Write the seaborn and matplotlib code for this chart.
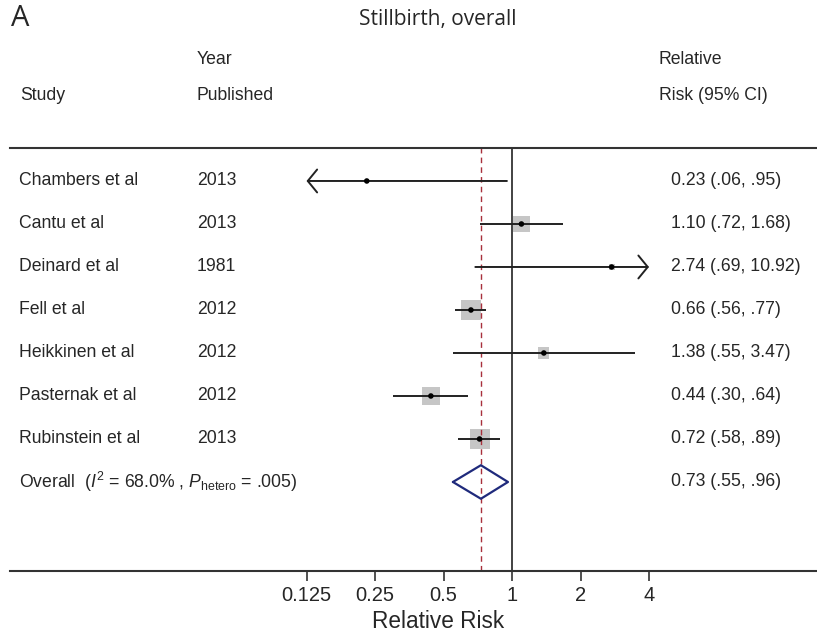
import matplotlib
matplotlib.use("agg")
import matplotlib.pyplot as plt
import matplotlib.transforms as mtransforms
from matplotlib.ticker import NullLocator, FixedLocator, FixedFormatter
import numpy as np
import pandas as pd
import seaborn as sns

# data
studies = ['Chambers et al', 'Cantu et al', 'Deinard et al', 'Fell et al',
           'Heikkinen et al', 'Pasternak et al', 'Rubinstein et al']
years = ['2013', '2013', '1981', '2012', '2012', '2012', '2013']
rr = [0.23, 1.10, 2.74, 0.66, 1.38, 0.44, 0.72]
ciLow = [0.06, 0.72, 0.69, 0.56, 0.55, 0.30, 0.58]
ciHigh = [0.95, 1.68, 10.92, 0.77, 3.47, 0.64, 0.89]
rrLabels = ['0.23 (.06, .95)', '1.10 (.72, 1.68)', '2.74 (.69, 10.92)',
            '0.66 (.56, .77)', '1.38 (.55, 3.47)', '0.44 (.30, .64)',
            '0.72 (.58, .89)']
weights = [0.8, 15.0, 1.9, 21.0, 6.4, 17.0, 21.0]   # approx. study weights (box area)

overallRR = 0.73
overallLow = 0.55
overallHigh = 0.96
overallText = '0.73 (.55, .96)'
overallLabel = r'Overall  ($I^2$ = 68.0% , $P_{\rm hetero}$ = .005)'

xTicks = [0.125, 0.25, 0.5, 1, 2, 4]
xTickLabels = ['0.125', '0.25', '0.5', '1', '2', '4']
clipLow, clipHigh = 0.125, 4.0

sns.set_style("white")
plt.rcParams['font.family'] = ['Liberation Sans', 'DejaVu Sans']
plt.rcParams['mathtext.fontset'] = 'custom'
plt.rcParams['mathtext.rm'] = 'Liberation Sans'
plt.rcParams['mathtext.it'] = 'Liberation Sans:italic'

W, H = 817, 638
fig = plt.figure(figsize=(W / 100, H / 100), dpi=100)
ax = fig.add_axes([10 / W, 67 / H, 807 / W, 423 / H])

pxPerDoubling = 68.5
x1px = 512
ax.set_xscale('log', base=2)
ax.set_xlim(2 ** ((10 - x1px) / pxPerDoubling), 2 ** ((817 - x1px) / pxPerDoubling))
ax.set_ylim(9.07, -0.767)

df = pd.DataFrame({'RR': rr, 'row': np.arange(len(studies)), 'weight': weights})

# grey weight boxes
k = 9.9
sns.scatterplot(data=df, x='RR', y='row', size='weight',
                sizes=(min(weights) * k, max(weights) * k), marker='s',
                color='#c6c6c6', edgecolor='none', linewidth=0,
                legend=False, ax=ax, zorder=1)

# confidence intervals (arrows where clipped)
arrowKw = dict(arrowstyle='->,head_length=0.45,head_width=0.55',
               lw=1.4, color='#222222', mutation_scale=15,
               shrinkA=0, shrinkB=0)
for i in range(len(studies)):
    lo, hi = ciLow[i], ciHigh[i]
    if lo < clipLow:
        ax.annotate('', xy=(clipLow, i), xytext=(hi, i), arrowprops=arrowKw, zorder=3)
    elif hi > clipHigh:
        ax.annotate('', xy=(clipHigh, i), xytext=(lo, i), arrowprops=arrowKw, zorder=3)
    else:
        ax.hlines(i, lo, hi, color='#222222', lw=1.4, zorder=3)

# point estimates
sns.scatterplot(data=df, x='RR', y='row', color='black', s=16,
                edgecolor='none', legend=False, ax=ax, zorder=4)

# overall diamond
oRow = len(studies)
h = 0.39
ax.plot([overallLow, overallRR, overallHigh, overallRR, overallLow],
        [oRow, oRow - h, oRow, oRow + h, oRow], color='#1f2a7c', lw=1.6, zorder=3)

ax.axvline(1, color='#222222', lw=1.2, zorder=2)
ax.axvline(overallRR, color='#a8303c', lw=1.0, ls=(0, (4, 3)), zorder=2)

for side in ['left', 'right']:
    ax.spines[side].set_visible(False)
for side in ['top', 'bottom']:
    ax.spines[side].set_color('#333333')
    ax.spines[side].set_linewidth(1.5)

ax.xaxis.set_major_locator(FixedLocator(xTicks))
ax.xaxis.set_major_formatter(FixedFormatter(xTickLabels))
ax.xaxis.set_minor_locator(NullLocator())
ax.tick_params(axis='x', bottom=True, direction='out', length=7, width=1.2,
               color='#333333', pad=4, labelsize=14.5)
ax.set_yticks([])
ax.set_ylabel('')
ax.set_xlabel('Relative Risk', fontsize=16.3)
ax.xaxis.set_label_coords((438 - 10) / 807, -51 / 423)
ax.xaxis.label.set_va('center')

# row text columns
fs = 12.7
trans = mtransforms.blended_transform_factory(fig.transFigure, ax.transData)
for i in range(len(studies)):
    ax.text(19 / W, i, studies[i], transform=trans, va='center', fontsize=fs)
    ax.text(197 / W, i, years[i], transform=trans, va='center', fontsize=fs)
    ax.text(671 / W, i, rrLabels[i], transform=trans, va='center', fontsize=fs)
ax.text(19 / W, oRow, overallLabel, transform=trans, va='center', fontsize=fs)
ax.text(671 / W, oRow, overallText, transform=trans, va='center', fontsize=fs)

# headers
def fy(y):
    return 1 - y / H

fig.text(11 / W, fy(19), 'A', fontsize=21, va='center', family=['Open Sans', 'DejaVu Sans'])
fig.text(438 / W, fy(20), 'Stillbirth, overall', fontsize=15, ha='center', va='center',
         family=['Open Sans', 'DejaVu Sans'])
fig.text(197 / W, fy(60), 'Year', fontsize=fs, va='center')
fig.text(20 / W, fy(96), 'Study', fontsize=fs, va='center')
fig.text(197 / W, fy(96), 'Published', fontsize=fs, va='center')
fig.text(659 / W, fy(60), 'Relative', fontsize=fs, va='center')
fig.text(659 / W, fy(96), 'Risk (95% CI)', fontsize=fs, va='center')

fig.savefig('out.png', dpi=100)
plt.close('all')
